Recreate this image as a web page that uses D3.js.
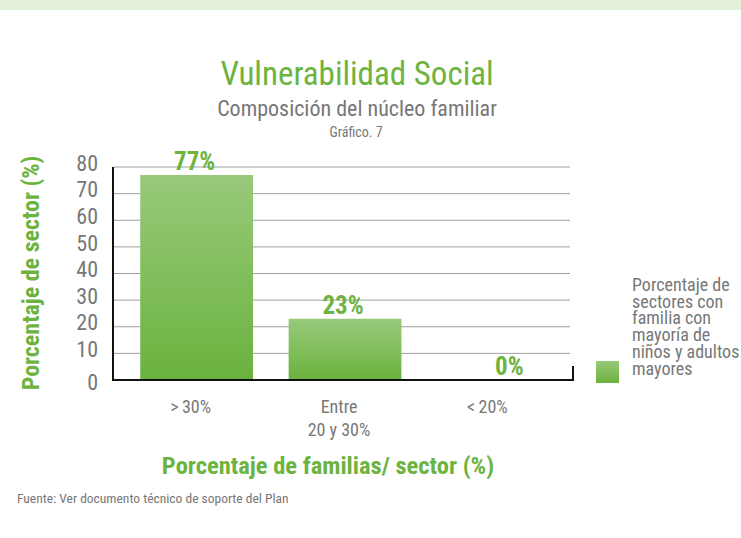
<!DOCTYPE html>
<html>
<head>
<meta charset="utf-8">
<script src="https://cdn.jsdelivr.net/npm/d3@7"></script>
<style>
  body { margin: 0; background: #fff; }
  svg text { font-family: "Liberation Sans Narrow", "Roboto Condensed", "DejaVu Sans Condensed", sans-serif; }
</style>
</head>
<body>
<svg width="741" height="538"></svg>
<script>
  // chart data
  const categories = ['>\u200930%', 'Entre|20 y 30%', '<\u200920%'];
  const values = [77, 23, 0];
  const yTicks = [0, 10, 20, 30, 40, 50, 60, 70, 80];
  const legendLines = ['Porcentaje de', 'sectores con', 'familia con', 'mayoría de', 'niños y adultos', 'mayores'];

  const green = '#6db33f';
  const grey = '#777';

  const svg = d3.select('svg');
  const width = +svg.attr('width');

  // light band at the top
  svg.append('rect').attr('x', 0).attr('y', 0).attr('width', width).attr('height', 10).attr('fill', '#e3f0da');

  // gradient for bars
  const defs = svg.append('defs');
  const grad = defs.append('linearGradient').attr('id', 'barGrad')
    .attr('x1', 0).attr('y1', 0).attr('x2', 0).attr('y2', 1);
  grad.append('stop').attr('offset', '0%').attr('stop-color', '#97c97a');
  grad.append('stop').attr('offset', '100%').attr('stop-color', '#6bb23e');

  const plotLeft = 113, plotRight = 573, plotTop = 167, plotBottom = 380;

  const x = d3.scaleBand()
    .domain(categories)
    .range([plotLeft, plotRight])
    .paddingInner(0.24)
    .paddingOuter(0.17)
    .align(0.54);

  const y = d3.scaleLinear()
    .domain([0, 80])
    .range([plotBottom, plotTop]);

  // titles
  svg.append('text').attr('x', 357).attr('y', 85).attr('text-anchor', 'middle')
    .attr('fill', green).style('font-size', '33px').text('Vulnerabilidad Social');
  svg.append('text').attr('x', 357).attr('y', 116).attr('text-anchor', 'middle')
    .attr('fill', grey).style('font-size', '22px').text('Composición del núcleo familiar');
  svg.append('text').attr('x', 356).attr('y', 137).attr('text-anchor', 'middle')
    .attr('fill', grey).style('font-size', '14px').text('Gráfico. 7');

  // gridlines
  const g = svg.append('g');
  g.selectAll('.grid').data(yTicks.filter(d => d > 0))
    .enter().append('line')
      .attr('x1', plotLeft).attr('x2', plotRight - 3)
      .attr('y1', d => y(d)).attr('y2', d => y(d))
      .attr('stroke', '#a0a0a0').attr('stroke-width', 1);

  // y tick labels
  g.selectAll('.ytick').data(yTicks)
    .enter().append('text')
      .attr('x', 98).attr('y', d => y(d) - (d === 0 ? -2 : 4))
      .attr('dy', '0.35em')
      .attr('text-anchor', 'end')
      .attr('fill', grey).style('font-size', '22px')
      .text(d => d);

  // bars
  g.selectAll('.bar').data(values)
    .enter().append('rect')
      .attr('x', (d, i) => x(categories[i]))
      .attr('y', d => y(d))
      .attr('width', x.bandwidth())
      .attr('height', d => plotBottom - y(d))
      .attr('fill', 'url(#barGrad)');

  // value labels
  g.selectAll('.val').data(values)
    .enter().append('text')
      .attr('x', (d, i) => x(categories[i]) + x.bandwidth() / 2 + (d === 0 ? 16 : -2))
      .attr('y', d => y(d) - 5)
      .attr('text-anchor', 'middle')
      .attr('fill', green).style('font-size', '25px').style('font-weight', 'bold')
      .text(d => d + '%');

  // axes lines
  g.append('line').attr('x1', plotLeft).attr('x2', plotLeft).attr('y1', plotTop).attr('y2', plotBottom + 1)
    .attr('stroke', '#111').attr('stroke-width', 2);
  g.append('line').attr('x1', plotLeft).attr('x2', plotRight + 1).attr('y1', plotBottom).attr('y2', plotBottom)
    .attr('stroke', '#111').attr('stroke-width', 2);
  g.append('line').attr('x1', plotRight).attr('x2', plotRight).attr('y1', plotBottom - 14).attr('y2', plotBottom + 1)
    .attr('stroke', '#111').attr('stroke-width', 2);

  // category labels
  categories.forEach(c => {
    const cx = x(c) + x.bandwidth() / 2 - 6;
    const t = g.append('text')
      .attr('x', cx)
      .attr('y', 413)
      .attr('text-anchor', 'middle')
      .attr('fill', grey).style('font-size', '18px');
    c.split('|').forEach((line, i) => {
      t.append('tspan').attr('x', cx).attr('dy', i === 0 ? 0 : 23).text(line);
    });
  });

  // axis titles
  svg.append('text')
    .attr('transform', 'translate(39,273) rotate(-90)')
    .attr('text-anchor', 'middle')
    .attr('fill', green).style('font-size', '24px').style('font-weight', 'bold')
    .text('Porcentaje de sector (%)');
  svg.append('text').attr('x', 328).attr('y', 474).attr('text-anchor', 'middle')
    .attr('fill', green).style('font-size', '24.5px').style('font-weight', 'bold')
    .text('Porcentaje de familias/ sector (%)');

  // legend
  svg.append('rect').attr('x', 596).attr('y', 361).attr('width', 23).attr('height', 22)
    .attr('fill', 'url(#barGrad)');
  const lg = svg.append('text').attr('fill', grey).style('font-size', '18px');
  legendLines.forEach((l, i) => {
    lg.append('tspan').attr('x', 632).attr('y', 291 + i * 16.7).text(l);
  });

  // source
  svg.append('text').attr('x', 17).attr('y', 503)
    .attr('fill', grey).style('font-size', '13.5px')
    .text('Fuente: Ver documento técnico de soporte del Plan');
</script>
</body>
</html>
